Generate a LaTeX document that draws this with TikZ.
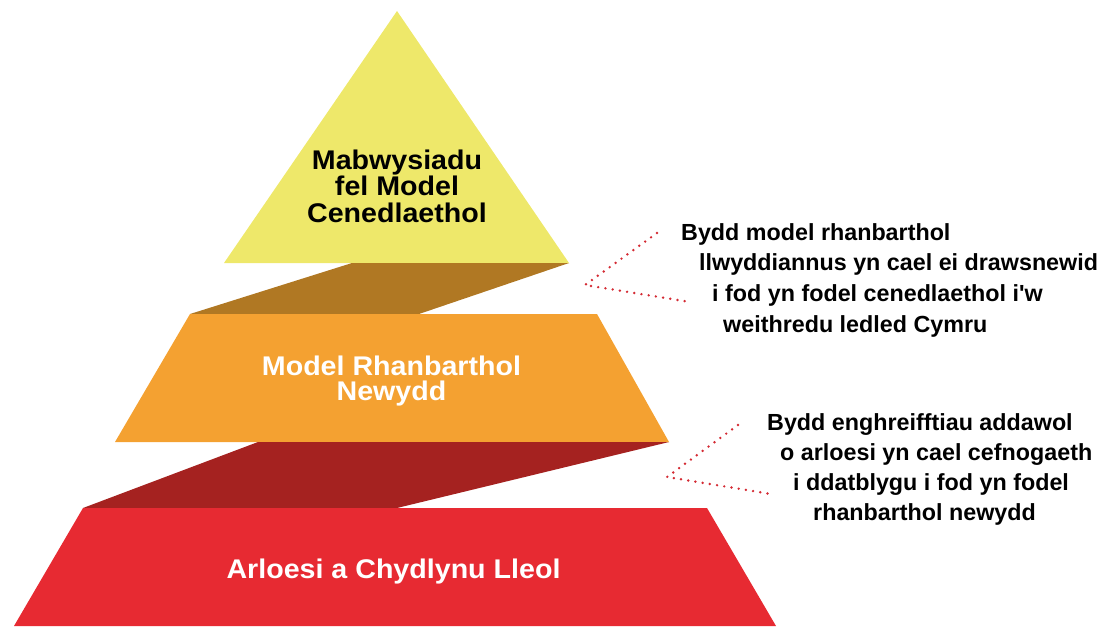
\documentclass[tikz,border=0pt]{standalone}
\usepackage{fontspec}
\setmainfont{Liberation Sans}
\newfontfamily\pyrfont[FakeStretch=1.06]{Liberation Sans}
\definecolor{cyellow}{HTML}{EEE86A}
\definecolor{cbrown}{HTML}{B07823}
\definecolor{corange}{HTML}{F4A131}
\definecolor{cdarkred}{HTML}{A52220}
\definecolor{cred}{HTML}{E72A32}
\definecolor{cdots}{HTML}{D42A33}
\tikzset{
  pyrlabel/.style={anchor=base, inner sep=0pt, font=\pyrfont\bfseries\fontsize{27}{27}\selectfont},
  notetext/.style={anchor=base west, inner sep=0pt, text=black, font=\bfseries\fontsize{23.3}{30}\selectfont},
  dotline/.style={draw=cdots, line width=2.7pt, line cap=round, dash pattern=on 0pt off 7.3pt}
}
\begin{document}
\begin{tikzpicture}[x=1pt,y=-1pt]
\useasboundingbox (0,0) rectangle (1102,626);
% pyramid layers
\fill[cyellow] (397,11) -- (569,263) -- (224,263) -- cycle;
\fill[cbrown] (352,263) -- (569,263) -- (419,314) -- (190,314) -- cycle;
\fill[corange] (190,314) -- (597,314) -- (669,442) -- (115,442) -- cycle;
\fill[cdarkred] (258,442) -- (669,442) -- (397,508) -- (83,508) -- cycle;
\fill[cred] (83,508) -- (707,508) -- (776,626) -- (14,626) -- cycle;
% pyramid labels
\node[pyrlabel, text=black] (t1) at (397,169) {Mabwysiadu};
\node[pyrlabel, text=black] (t2) at (397,195.5) {fel Model};
\node[pyrlabel, text=black] (t3) at (397,222) {Cenedlaethol};
\node[pyrlabel, text=white] (m1) at (391.5,375) {Model Rhanbarthol};
\node[pyrlabel, text=white] (m2) at (391.5,400) {Newydd};
\node[pyrlabel, text=white] (b1) at (393.5,578) {Arloesi a Chydlynu Lleol};
% note 1
\node[notetext] (na1) at (681,240) {Bydd model rhanbarthol};
\node[notetext] (na2) at (699,270.5) {llwyddiannus yn cael ei drawsnewid};
\node[notetext] (na3) at (712,301.5) {i fod yn fodel cenedlaethol i\textquotesingle w};
\node[notetext] (na4) at (723,332) {weithredu ledled Cymru};
% note 2
\node[notetext] (nb1) at (767,430) {Bydd enghreifftiau addawol};
\node[notetext] (nb2) at (780,460) {o arloesi yn cael cefnogaeth};
\node[notetext] (nb3) at (793,490) {i ddatblygu i fod yn fodel};
\node[notetext] (nb4) at (813,520) {rhanbarthol newydd};
% callout connectors
\coordinate (ca1) at (657,233);
\coordinate (cav) at (585,285);
\coordinate (ca2) at (690,302);
\coordinate (cb1) at (738,425);
\coordinate (cbv) at (667,477);
\coordinate (cb2) at (771,494);
\draw[dotline] (ca1) -- (cav) -- (ca2);
\draw[dotline] (cb1) -- (cbv) -- (cb2);
\end{tikzpicture}
\end{document}
